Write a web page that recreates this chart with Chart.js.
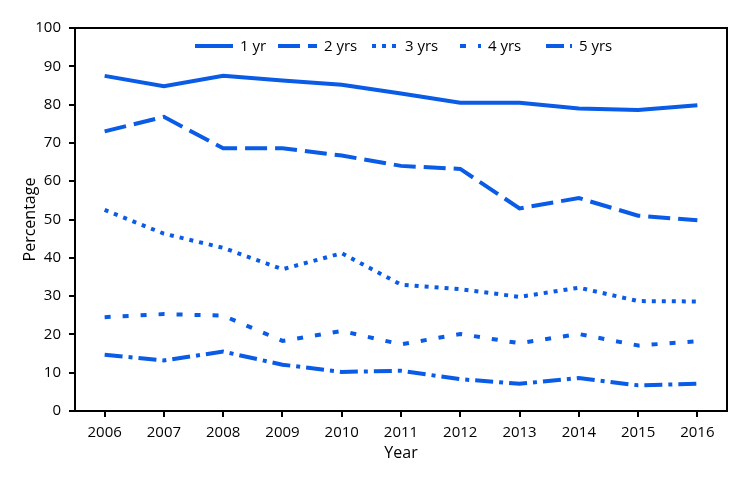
<!DOCTYPE html>
<html>
<head>
<meta charset="utf-8">
<script src="https://cdn.jsdelivr.net/npm/chart.js@4"></script>
<style>
    body { margin: 0; background: #fff; }
    #wrap { width: 750px; height: 482px; position: relative; }
</style>
</head>
<body>
<div id="wrap"><canvas id="grafico"></canvas></div>
<script>
const anos = ['2006', '2007', '2008', '2009', '2010', '2011', '2012', '2013', '2014', '2015', '2016'];
const umAno = [87.5, 84.8, 87.5, 86.3, 85.2, 82.9, 80.5, 80.5, 79.0, 78.6, 79.8];
const doisAnos = [73.0, 76.8, 68.6, 68.6, 66.7, 64.0, 63.2, 52.9, 55.6, 51.0, 49.8];
const tresAnos = [52.5, 46.3, 42.6, 37.0, 41.2, 33.0, 31.8, 29.8, 32.2, 28.7, 28.6];
const quatroAnos = [24.5, 25.3, 24.9, 18.3, 20.9, 17.4, 20.1, 17.7, 20.1, 17.1, 18.2];
const cincoAnos = [14.7, 13.2, 15.5, 12.1, 10.2, 10.5, 8.3, 7.1, 8.6, 6.7, 7.1];
const rotulos = ['1 yr', '2 yrs', '3 yrs', '4 yrs', '5 yrs'];

const azul = '#0a5be5';
const fonte = "'Open Sans', sans-serif";
const fonteTicks = "'Liberation Sans Narrow', 'Open Sans', sans-serif";

const tracos = [[], [22, 8], [4, 6], [6, 12], [18, 6, 4, 6]];
const series = [umAno, doisAnos, tresAnos, quatroAnos, cincoAnos];

// legenda desenhada dentro da área do gráfico
const legendaPlugin = {
    id: 'legenda',
    afterDraw(chart) {
        const c = chart.ctx;
        const area = chart.chartArea;
        const y = area.top + 18;
        const itens = [
            { x: 195, w: 38 },
            { x: 278, w: 39 },
            { x: 372, w: 26 },
            { x: 460, w: 21 },
            { x: 546, w: 26 }
        ];
        c.save();
        c.font = '15px ' + fonte;
        c.textBaseline = 'middle';
        itens.forEach((it, i) => {
            c.strokeStyle = azul;
            c.lineWidth = 4;
            c.setLineDash(tracos[i]);
            c.beginPath();
            c.moveTo(it.x, y);
            c.lineTo(it.x + it.w, y);
            c.stroke();
            c.setLineDash([]);
            c.fillStyle = '#000';
            c.fillText(rotulos[i], it.x + it.w + 7, y + 1);
        });
        c.restore();
    }
};

const molduraPlugin = {
    id: 'moldura',
    afterDatasetsDraw(chart) {
        const c = chart.ctx;
        const a = chart.chartArea;
        c.save();
        c.strokeStyle = '#000';
        c.lineWidth = 2;
        c.strokeRect(a.left, a.top, a.right - a.left, a.bottom - a.top);
        c.restore();
    }
};

const ctx = document.getElementById('grafico').getContext('2d');
new Chart(ctx, {
    type: 'line',
    data: {
        labels: anos,
        datasets: series.map((dados, i) => ({
            label: rotulos[i],
            data: dados,
            borderColor: azul,
            backgroundColor: azul,
            borderWidth: 4,
            borderDash: tracos[i],
            borderCapStyle: 'butt',
            pointRadius: 0,
            tension: 0,
            fill: false
        }))
    },
    options: {
        responsive: true,
        maintainAspectRatio: false,
        animation: false,
        layout: { padding: { top: 28, right: 23, left: 0, bottom: 0 } },
        plugins: {
            legend: { display: false },
            tooltip: { enabled: false }
        },
        scales: {
            x: {
                offset: true,
                grid: { offset: false, drawOnChartArea: false, drawTicks: true, tickLength: 6, color: '#000', lineWidth: 2 },
                border: { color: '#000', width: 2 },
                ticks: { color: '#000', font: { family: fonteTicks, size: 15 }, padding: 7, maxRotation: 0 },
                title: { display: true, text: 'Year', color: '#000', font: { family: fonte, size: 16 }, padding: { top: 0, bottom: 19 } },
                afterFit(scale) { scale.height = 71; }
            },
            y: {
                min: 0,
                max: 100,
                ticks: { stepSize: 10, color: '#000', font: { family: fonteTicks, size: 15 }, padding: 8 },
                grid: { drawOnChartArea: false, drawTicks: true, tickLength: 6, color: '#000', lineWidth: 2 },
                border: { color: '#000', width: 2 },
                title: { display: true, text: 'Percentage', color: '#000', font: { family: fonte, size: 16 }, padding: { top: 21, bottom: 0 } },
                afterFit(scale) { scale.width = 75; }
            }
        }
    },
    plugins: [legendaPlugin, molduraPlugin]
});
</script>
</body>
</html>
